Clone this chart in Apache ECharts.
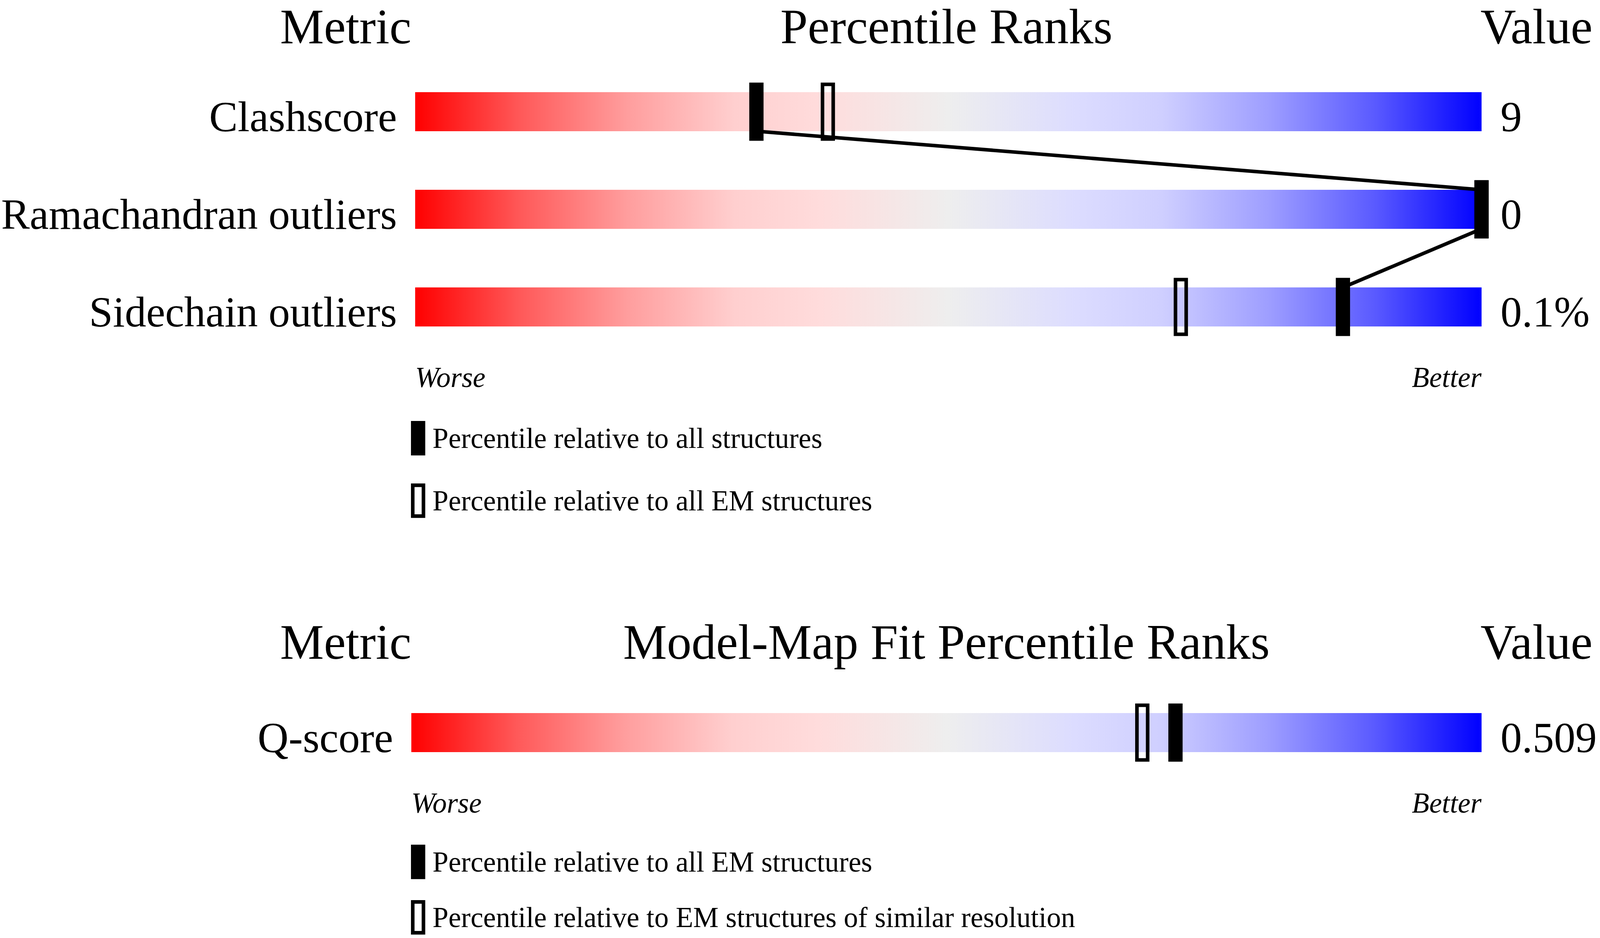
<!DOCTYPE html>
<html>
<head>
<meta charset="utf-8">
<title>Percentile Ranks</title>
<script src="https://cdn.jsdelivr.net/npm/echarts@6/dist/echarts.min.js"></script>
<style>
  html, body { margin: 0; padding: 0; background: #fff; overflow: hidden; }
  #chart { width: 100vw; height: 100vh; }
</style>
</head>
<body>
<div id="chart"></div>
<script>
// geometry quality sliders
const metrics = ['Clashscore', 'Ramachandran outliers', 'Sidechain outliers'];
const metricValues = ['9', '0', '0.1%'];
const pctAll = [32.0, 100, 87.0];      // relative to all structures
const pctEM = [38.7, 100, 71.8];       // relative to all EM structures

// model-map fit slider
const fitMetrics = ['Q-score'];
const fitValues = ['0.509'];
const fitPctEM = [71.4];               // relative to all EM structures
const fitPctRes = [68.3];              // relative to EM structures of similar resolution

const scaleLabels = ['Worse', 'Better'];

const NAME_ALL = 'Percentile relative to all structures';
const NAME_EM = 'Percentile relative to all EM structures';
const NAME_RES = 'Percentile relative to EM structures of similar resolution';

const FONT = '"Liberation Serif", "Times New Roman", serif';

document.addEventListener("DOMContentLoaded", function () {
    var chart = echarts.init(document.getElementById('chart'), null, { renderer: 'svg' });

    // layout was measured on a 4485 x 2402 picture; scale it to the real page size
    var sx = chart.getWidth() / 4485;
    var sy = chart.getHeight() / 2402;
    function X(v) { return v * sx; }
    function Y(v) { return v * sy; }
    function F(v) { return v * sx; }

    var BAR_H = Y(100);
    var MARK_W = X(30), MARK_H = Y(140), MARK_LW = X(10);

    var sliderColor = new echarts.graphic.LinearGradient(0, 0, 1, 0, [
        { offset: 0, color: '#ff0000' },
        { offset: 0.1, color: '#ff5a5a' },
        { offset: 0.2, color: '#ff9e9e' },
        { offset: 0.3, color: '#ffcfcf' },
        { offset: 0.38, color: '#ffdcdc' },
        { offset: 0.5, color: '#eeeeee' },
        { offset: 0.62, color: '#dcdcff' },
        { offset: 0.7, color: '#cfcfff' },
        { offset: 0.8, color: '#9e9eff' },
        { offset: 0.9, color: '#5a5aff' },
        { offset: 1, color: '#0000ff' }
    ]);

    function xAxisFor(gridIndex) {
        return {
            gridIndex: gridIndex, type: 'value', min: 0, max: 100, interval: 100,
            axisLine: { show: false }, axisTick: { show: false }, splitLine: { show: false },
            axisLabel: {
                margin: Y(19), fontFamily: FONT, fontSize: F(80), fontStyle: 'italic', color: '#000',
                alignMinLabel: 'left', alignMaxLabel: 'right',
                formatter: function (v) { return v === 0 ? scaleLabels[0] : scaleLabels[1]; }
            }
        };
    }

    // labels sit a little low so their baseline meets the bottom of the slider
    function yAxisFor(gridIndex, cats, side) {
        return {
            gridIndex: gridIndex, type: 'category', data: cats, inverse: true, position: side,
            axisLine: { show: false }, axisTick: { show: false }, splitLine: { show: false },
            axisLabel: {
                margin: X(side === 'left' ? 51 : 53), fontFamily: FONT, fontSize: F(120), color: '#000',
                verticalAlign: 'top', lineHeight: Y(26)
            }
        };
    }

    function track(xi, yi, cats) {
        return {
            type: 'bar', xAxisIndex: xi, yAxisIndex: yi, barWidth: BAR_H, silent: true,
            itemStyle: { color: sliderColor }, data: cats.map(function () { return 100; }), z: 1
        };
    }

    function marks(name, xi, yi, pcts, filled) {
        var fill = filled ? '#000' : 'rgba(0,0,0,0)';
        return {
            name: name, type: 'custom', xAxisIndex: xi, yAxisIndex: yi, z: 4, silent: true,
            itemStyle: { color: fill, borderColor: '#000', borderWidth: MARK_LW },
            encode: { x: 0, y: 1 },
            data: pcts.map(function (p, i) { return [p, i]; }),
            renderItem: function (params, api) {
                var c = api.coord([api.value(0), api.value(1)]);
                return {
                    type: 'rect',
                    shape: { x: c[0] - MARK_W / 2, y: c[1] - MARK_H / 2, width: MARK_W, height: MARK_H },
                    style: { fill: fill, stroke: '#000', lineWidth: MARK_LW }
                };
            }
        };
    }

    // segments joining the "all structures" marks from one row's bottom to the next row's top
    var segments = [];
    for (var i = 0; i < pctAll.length - 1; i++) {
        segments.push([pctAll[i], i, pctAll[i + 1], i + 1]);
    }

    // one legend per entry so the entries stack even where the page ends
    function legendItem(top, name, filled) {
        return {
            orient: 'vertical', left: X(1152), top: Y(top), padding: 0,
            itemWidth: X(30), itemHeight: Y(79), icon: 'rect', selectedMode: false,
            textStyle: { fontFamily: FONT, fontSize: F(80), color: '#000', padding: [Y(86), 0, 0, X(20)] },
            data: [{
                name: name,
                itemStyle: { color: filled ? '#000' : 'rgba(0,0,0,0)', borderColor: '#000', borderWidth: MARK_LW }
            }]
        };
    }

    function heading(x, y, text, align) {
        return {
            type: 'text', x: X(x), y: Y(y), silent: true,
            style: {
                text: text, fontFamily: FONT, fontSize: F(138), lineHeight: F(100),
                fill: '#000', align: align, verticalAlign: 'middle'
            }
        };
    }

    var option = {
        animation: false,
        backgroundColor: '#fff',
        grid: [
            { left: X(1153), width: X(3000), top: Y(161), height: Y(750) },
            { left: X(1153), width: X(3000), top: Y(1751), height: Y(250) }
        ],
        xAxis: [xAxisFor(0), xAxisFor(1)],
        yAxis: [
            yAxisFor(0, metrics, 'left'), yAxisFor(0, metricValues, 'right'),
            yAxisFor(1, fitMetrics, 'left'), yAxisFor(1, fitValues, 'right')
        ],
        legend: [
            legendItem(1078, NAME_ALL, true),
            legendItem(1238, NAME_EM, false),
            legendItem(2163, NAME_EM, true),
            legendItem(2305, NAME_RES, false)
        ],
        graphic: [
            heading(1153, 68, 'Metric', 'right'),
            heading(2653, 68, 'Percentile Ranks', 'center'),
            heading(4150, 68, 'Value', 'left'),
            heading(1153, 1644, 'Metric', 'right'),
            heading(2653, 1644, 'Model-Map Fit Percentile Ranks', 'center'),
            heading(4150, 1644, 'Value', 'left')
        ],
        series: [
            track(0, 0, metrics),
            {
                type: 'custom', xAxisIndex: 0, yAxisIndex: 0, z: 3, silent: true,
                encode: { x: [0, 2], y: [1, 3] },
                data: segments,
                renderItem: function (params, api) {
                    var a = api.coord([api.value(0), api.value(1)]);
                    var b = api.coord([api.value(2), api.value(3)]);
                    return {
                        type: 'line',
                        shape: { x1: a[0], y1: a[1] + BAR_H / 2, x2: b[0], y2: b[1] - BAR_H / 2 },
                        style: { stroke: '#000', lineWidth: MARK_LW }
                    };
                }
            },
            marks(NAME_EM, 0, 0, pctEM, false),
            marks(NAME_ALL, 0, 0, pctAll, true),
            track(1, 2, fitMetrics),
            marks(NAME_RES, 1, 2, fitPctRes, false),
            marks(NAME_EM, 1, 2, fitPctEM, true)
        ]
    };

    chart.setOption(option);
});
</script>
</body>
</html>
